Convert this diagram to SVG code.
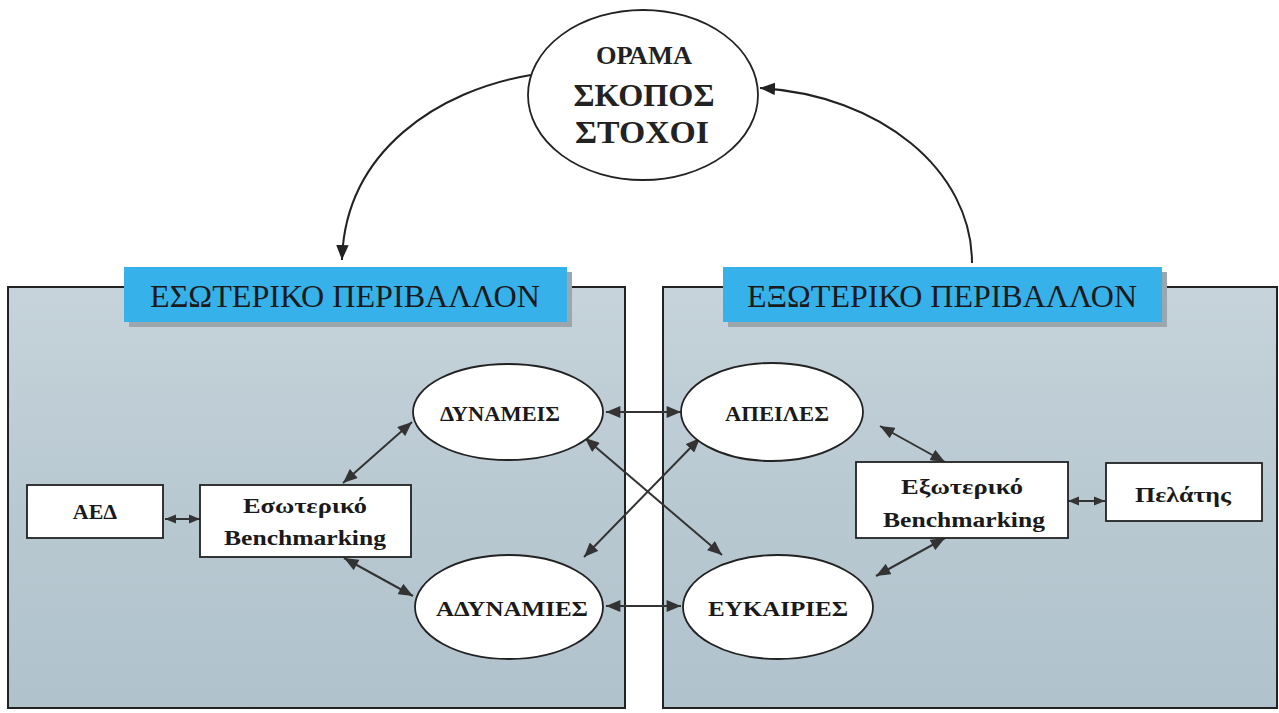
<svg xmlns="http://www.w3.org/2000/svg" width="1279" height="713" viewBox="0 0 1279 713">
  <defs>
    <linearGradient id="panelFill" x1="0" y1="0" x2="0" y2="1">
      <stop offset="0" stop-color="#c6d3da"/>
      <stop offset="0.5" stop-color="#b9c9d2"/>
      <stop offset="1" stop-color="#b0c2cc"/>
    </linearGradient>
    <marker id="head" viewBox="0 0 12 10" refX="12" refY="5" markerWidth="15" markerHeight="12" markerUnits="userSpaceOnUse" orient="auto-start-reverse">
      <path d="M0,0 L12,5 L0,10 Z" fill="#333"/>
    </marker>
    <marker id="headSmall" viewBox="0 0 12 10" refX="12" refY="5" markerWidth="11" markerHeight="10" markerUnits="userSpaceOnUse" orient="auto-start-reverse">
      <path d="M0,0 L12,5 L0,10 Z" fill="#333"/>
    </marker>
    <marker id="arcHead" viewBox="0 0 12 10" refX="12" refY="5" markerWidth="15" markerHeight="13" markerUnits="userSpaceOnUse" orient="auto">
      <path d="M0,0 L12,5 L0,10 Z" fill="#222"/>
    </marker>
  </defs>
  <style>
    .panel { fill: url(#panelFill); stroke: #222; stroke-width: 2; }
    .tab { fill: #36b1ea; }
    .tabShadow { fill: #9ca7ad; }
    .tabText { font-family: "Liberation Serif", "DejaVu Serif", serif; font-size: 32px; fill: #1a1a1a; text-anchor: middle; }
    .node { fill: #ffffff; stroke: #222; stroke-width: 1.8; }
    .label { font-family: "Liberation Serif", "DejaVu Serif", serif; font-weight: bold; font-size: 22px; fill: #1a1a1a; text-anchor: middle; }
    .vision { font-family: "Liberation Serif", "DejaVu Serif", serif; font-weight: bold; fill: #222; text-anchor: middle; }
    .link { stroke: #333; stroke-width: 2; fill: none; marker-start: url(#head); marker-end: url(#head); }
    .linkShort { stroke: #333; stroke-width: 2; fill: none; marker-start: url(#headSmall); marker-end: url(#headSmall); }
    .arc { stroke: #222; stroke-width: 2; fill: none; marker-end: url(#arcHead); }
  </style>

  <rect width="1279" height="713" fill="#ffffff"/>

  <!-- environment panels with their title tabs -->
  <g id="internal-panel">
    <rect class="panel" x="8" y="287" width="617" height="421"/>
    <rect class="tabShadow" x="129" y="272" width="443" height="55"/>
    <rect class="tab" x="124" y="267" width="443" height="55"/>
    <text class="tabText" x="345" y="307" textLength="390" lengthAdjust="spacingAndGlyphs">ΕΣΩΤΕΡΙΚΟ ΠΕΡΙΒΑΛΛΟΝ</text>
  </g>
  <g id="external-panel">
    <rect class="panel" x="663" y="287" width="614" height="421"/>
    <rect class="tabShadow" x="728" y="272" width="439" height="55"/>
    <rect class="tab" x="723" y="267" width="439" height="55"/>
    <text class="tabText" x="942" y="307" textLength="390" lengthAdjust="spacingAndGlyphs">ΕΞΩΤΕΡΙΚΟ ΠΕΡΙΒΑΛΛΟΝ</text>
  </g>

  <!-- connectors -->
  <g id="connectors">
    <path class="arc" d="M531,75 C440,90 345,150 342,260"/>
    <path class="arc" d="M972,263 C972,170 880,95 760,88"/>
    <line class="linkShort" x1="165" y1="519" x2="200" y2="519"/>
    <line class="link" x1="343" y1="483" x2="412" y2="422"/>
    <line class="link" x1="344" y1="558" x2="413" y2="596"/>
    <line class="link" x1="606" y1="412" x2="681" y2="412"/>
    <line class="link" x1="606" y1="606" x2="681" y2="606"/>
    <line class="link" x1="585" y1="438" x2="722" y2="555"/>
    <line class="link" x1="584" y1="557" x2="700" y2="438"/>
    <line class="link" x1="880" y1="426" x2="945" y2="462"/>
    <line class="link" x1="876" y1="576" x2="945" y2="538"/>
    <line class="linkShort" x1="1068" y1="501" x2="1105" y2="501"/>
  </g>

  <!-- vision / purpose / goals -->
  <g id="vision">
    <ellipse class="node" cx="643" cy="95" rx="115" ry="85"/>
    <text class="vision" x="644" y="64" font-size="25" textLength="96" lengthAdjust="spacingAndGlyphs">ΟΡΑΜΑ</text>
    <text class="vision" x="644" y="106" font-size="31" textLength="141" lengthAdjust="spacingAndGlyphs">ΣΚΟΠΟΣ</text>
    <text class="vision" x="642" y="143" font-size="31" textLength="134" lengthAdjust="spacingAndGlyphs">ΣΤΟΧΟΙ</text>
  </g>

  <g id="strengths">
    <ellipse class="node" cx="508" cy="412" rx="95" ry="48"/>
    <text class="label" x="500" y="421" textLength="120" lengthAdjust="spacingAndGlyphs">ΔΥΝΑΜΕΙΣ</text>
  </g>
  <g id="weaknesses">
    <ellipse class="node" cx="509" cy="607" rx="94" ry="52"/>
    <text class="label" x="512" y="616" textLength="152" lengthAdjust="spacingAndGlyphs">ΑΔΥΝΑΜΙΕΣ</text>
  </g>
  <g id="threats">
    <ellipse class="node" cx="772" cy="412" rx="91" ry="49"/>
    <text class="label" x="777" y="421" textLength="104" lengthAdjust="spacingAndGlyphs">ΑΠΕΙΛΕΣ</text>
  </g>
  <g id="opportunities">
    <ellipse class="node" cx="778" cy="607" rx="95" ry="52"/>
    <text class="label" x="778" y="616" textLength="140" lengthAdjust="spacingAndGlyphs">ΕΥΚΑΙΡΙΕΣ</text>
  </g>

  <g id="aed">
    <rect class="node" x="27" y="485" width="136" height="53"/>
    <text class="label" x="95" y="519">ΑΕΔ</text>
  </g>
  <g id="internal-benchmarking">
    <rect class="node" x="200" y="485" width="211" height="72"/>
    <text class="label" x="305" y="513" textLength="124" lengthAdjust="spacingAndGlyphs">Εσωτερικό</text>
    <text class="label" x="305" y="545" textLength="162" lengthAdjust="spacingAndGlyphs">Benchmarking</text>
  </g>
  <g id="external-benchmarking">
    <rect class="node" x="856" y="462" width="212" height="76"/>
    <text class="label" x="962" y="494" textLength="122" lengthAdjust="spacingAndGlyphs">Εξωτερικό</text>
    <text class="label" x="964" y="527" textLength="162" lengthAdjust="spacingAndGlyphs">Benchmarking</text>
  </g>
  <g id="customer">
    <rect class="node" x="1106" y="463" width="156" height="58"/>
    <text class="label" x="1183" y="502" textLength="96" lengthAdjust="spacingAndGlyphs">Πελάτης</text>
  </g>
</svg>
